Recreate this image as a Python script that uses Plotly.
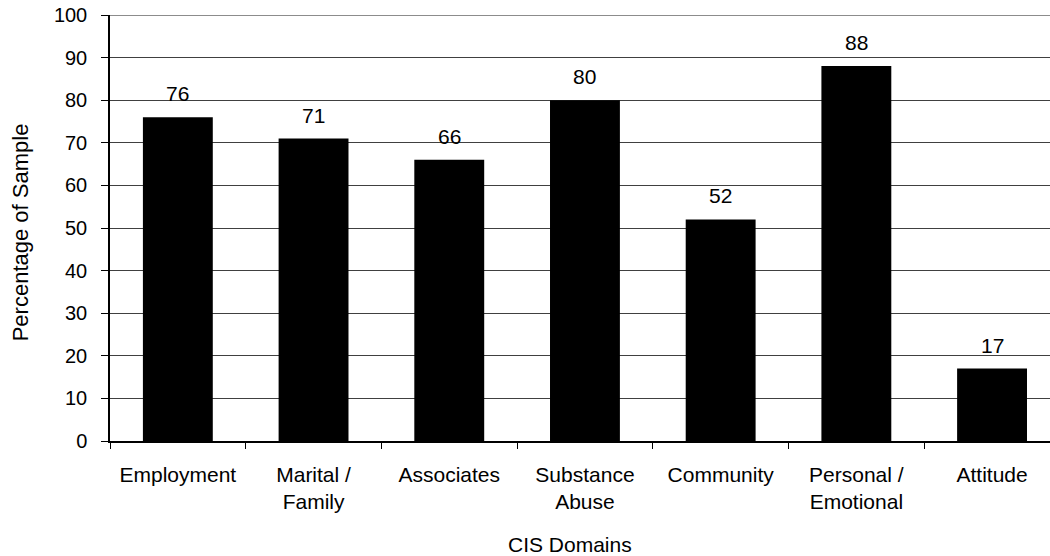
import plotly.graph_objects as go

# CIS domain scores (percentage of sample)
domains = ["Employment", "Marital /<br>Family", "Associates", "Substance<br>Abuse",
           "Community", "Personal /<br>Emotional", "Attitude"]
percentages = [76, 71, 66, 80, 52, 88, 17]
y_ticks = list(range(0, 101, 10))

FONT = "Liberation Sans, Arial, sans-serif"

fig = go.Figure()
fig.add_trace(go.Bar(
    x=domains,
    y=percentages,
    width=0.515,
    marker=dict(color="#000000", line=dict(width=0)),
    hoverinfo="x+y",
))

# value labels above each bar
for d, v in zip(domains, percentages):
    fig.add_annotation(
        x=d, y=v, text=str(v), showarrow=False,
        xanchor="center", yanchor="bottom", yshift=10,
        font=dict(family=FONT, size=21, color="#000000"),
    )

# axis titles
fig.add_annotation(
    text="Percentage of Sample", xref="paper", yref="paper",
    x=-0.0957, y=0.49, xanchor="center", yanchor="middle", textangle=-90,
    showarrow=False, font=dict(family=FONT, size=22, color="#000000"),
)
fig.add_annotation(
    text="CIS Domains", xref="paper", yref="paper",
    x=0.489, y=-0.242, xanchor="center", yanchor="middle",
    showarrow=False, font=dict(family=FONT, size=21, color="#000000"),
)

# grey frame line along the top of the plot area
fig.add_shape(type="line", xref="paper", yref="y", x0=0, x1=1, y0=100, y1=100,
              line=dict(color="#8c8c8c", width=2), layer="above")

fig.update_layout(
    width=1050, height=556,
    margin=dict(l=110, r=0, t=15, b=115),
    paper_bgcolor="white", plot_bgcolor="white",
    showlegend=False,
    font=dict(family=FONT, color="#000000"),
)

fig.update_xaxes(
    type="category",
    range=[-0.5, 6.427],
    showline=True, linecolor="#000000", linewidth=1.5,
    ticks="outside", tickson="boundaries", ticklen=6, tickwidth=1, tickcolor="#000000",
    tickfont=dict(family=FONT, size=21, color="#000000"),
    ticklabelstandoff=14,
    showgrid=False,
)

fig.update_yaxes(
    range=[0, 100],
    tickvals=y_ticks,
    showline=True, linecolor="#000000", linewidth=1.5,
    ticks="outside", ticklen=7, tickwidth=1, tickcolor="#000000",
    tickfont=dict(family=FONT, size=20, color="#000000"),
    ticklabelstandoff=10,
    showgrid=True, gridcolor="#404040", gridwidth=1,
    zeroline=False,
)

fig.write_html("out.html")
